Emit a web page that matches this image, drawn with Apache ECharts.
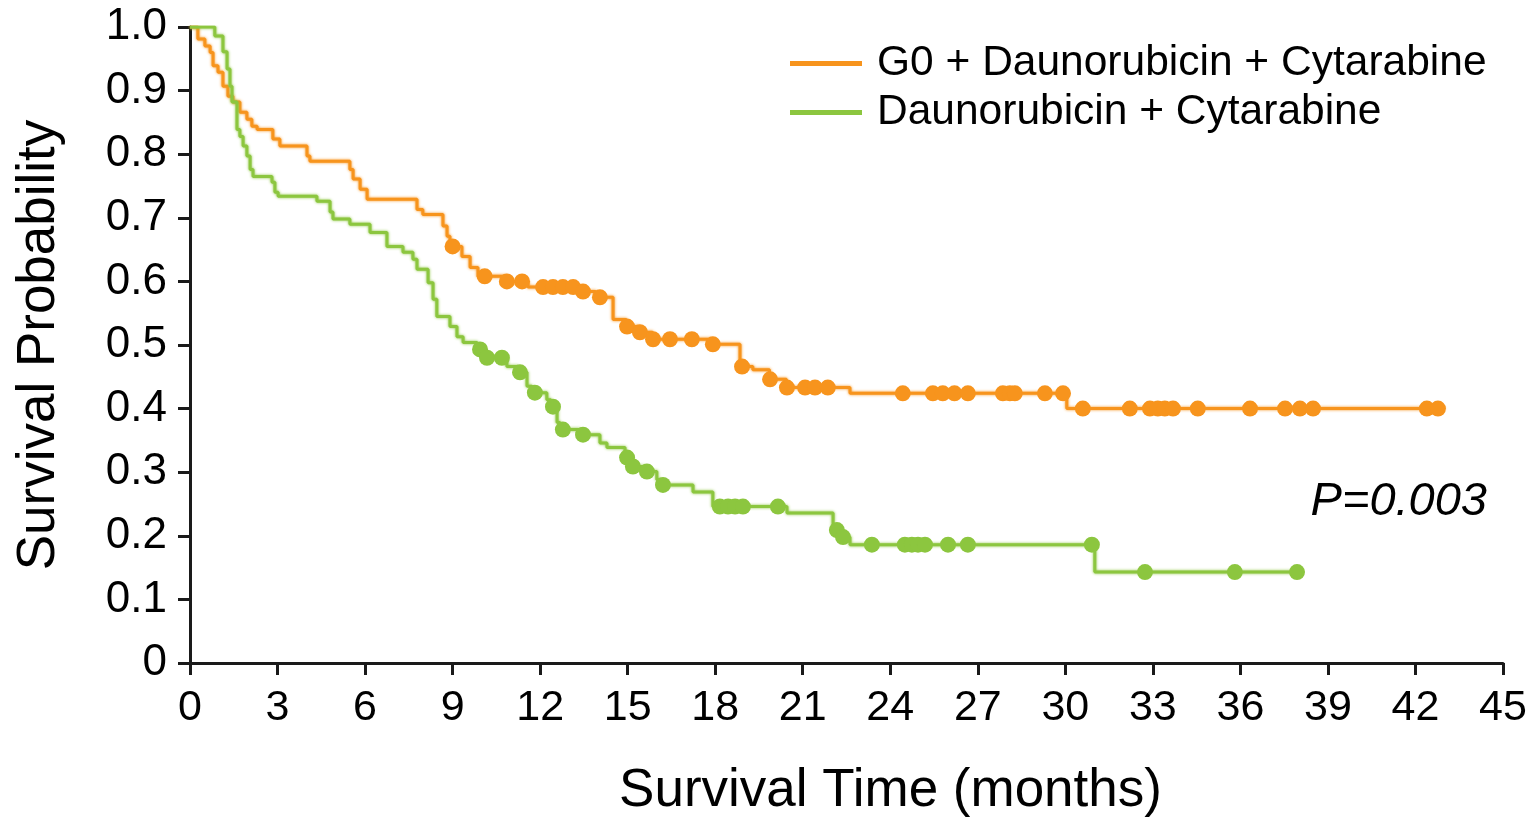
<!DOCTYPE html>
<html>
<head>
<meta charset="utf-8">
<title>Survival Probability</title>
<script src="https://cdn.jsdelivr.net/npm/echarts@6/dist/echarts.min.js"></script>
<style>
  html, body { margin: 0; padding: 0; background: #ffffff; }
  #chart { width: 1533px; height: 818px; }
</style>
</head>
<body>
<div id="chart"></div>
<script>
// Kaplan-Meier step points: time (months) of each drop and survival after it
const g0Name = 'G0 + Daunorubicin + Cytarabine';
const g0Time = [0, 0.27, 0.51, 0.69, 0.79, 0.96, 1.13, 1.30, 1.47, 1.71,
  1.95, 2.12, 2.30, 2.84, 3.08, 4.01, 4.11, 5.48, 5.59, 5.83,
  6.07, 7.78, 7.98, 8.67, 8.81, 8.91, 9.32, 9.60, 9.87, 10.86,
  11.58, 13.47, 13.90, 14.50, 14.95, 15.40, 15.85, 17.90, 18.85, 19.29,
  19.86, 20.44, 22.62, 30.05];
const g0Surv = [1.0, 0.981, 0.970, 0.960, 0.939, 0.929, 0.907, 0.891, 0.882, 0.866,
  0.855, 0.844, 0.839, 0.824, 0.813, 0.797, 0.789, 0.776, 0.761, 0.745,
  0.729, 0.713, 0.705, 0.687, 0.671, 0.655, 0.639, 0.622, 0.608, 0.600,
  0.591, 0.584, 0.575, 0.540, 0.529, 0.520, 0.509, 0.501, 0.466, 0.461,
  0.446, 0.433, 0.424, 0.400];
const g0Censor = [9.0, 10.1, 10.86, 11.38, 12.1, 12.44, 12.78, 13.13, 13.47, 14.05,
  14.98, 15.42, 15.87, 16.45, 17.2, 17.92, 18.92, 19.88, 20.46, 21.08,
  21.42, 21.86, 24.43, 25.46, 25.8, 26.2, 26.66, 27.86, 28.1, 28.27,
  29.3, 29.92, 30.6, 32.21, 32.9, 33.17, 33.41, 33.69, 34.54, 36.33,
  37.53, 38.04, 38.49, 42.39, 42.77];
const g0End = 43.0;

const dcName = 'Daunorubicin + Cytarabine';
const dcTime = [0, 0.85, 1.13, 1.27, 1.37, 1.44, 1.61, 1.71, 1.82, 1.95,
  2.06, 2.16, 2.81, 2.91, 3.02, 4.35, 4.80, 4.90, 5.48, 6.17,
  6.75, 7.30, 7.64, 7.78, 8.16, 8.33, 8.46, 8.91, 9.15, 9.36,
  9.84, 10.11, 10.86, 11.24, 11.55, 11.72, 12.23, 12.37, 12.58, 12.68,
  13.37, 14.05, 14.29, 14.91, 15.11, 15.56, 16.00, 16.14, 17.24, 17.92,
  20.46, 22.04, 22.31, 22.62, 31.01];
const dcSurv = [1.0, 0.986, 0.961, 0.934, 0.907, 0.882, 0.839, 0.828, 0.813, 0.797,
  0.776, 0.765, 0.756, 0.740, 0.734, 0.726, 0.709, 0.698, 0.690, 0.677,
  0.655, 0.646, 0.635, 0.619, 0.598, 0.572, 0.545, 0.529, 0.513, 0.504,
  0.493, 0.480, 0.466, 0.457, 0.435, 0.425, 0.414, 0.403, 0.378, 0.367,
  0.359, 0.346, 0.339, 0.323, 0.309, 0.301, 0.288, 0.280, 0.269, 0.246,
  0.236, 0.209, 0.198, 0.186, 0.143];
const dcCensor = [9.94, 10.18, 10.69, 11.31, 11.82, 12.44, 12.78, 13.47, 14.98, 15.18,
  15.66, 16.21, 18.16, 18.44, 18.68, 18.95, 20.15, 22.17, 22.38, 23.37,
  24.5, 24.74, 24.95, 25.19, 25.98, 26.66, 30.91, 32.73, 35.81, 37.94];
const dcEnd = 37.94;

const xTicks = { min: 0, max: 45, step: 3 };
const yTicks = { min: 0, max: 1, step: 0.1 };
const pValueText = 'P=0.003';

const orange = '#F7941D';
const green = '#8CC63F';
const fontFamily = '"Liberation Sans", Arial, Helvetica, sans-serif';

// Step curve data, holding the last value until the end of follow-up
function curveData(times, surv, end) {
  const pts = times.map((t, i) => [t, surv[i]]);
  pts.push([end, surv[surv.length - 1]]);
  return pts;
}

// Survival value of a step curve at time t
function survAt(times, surv, t) {
  let v = surv[0];
  for (let i = 0; i < times.length; i++) {
    if (times[i] <= t + 1e-9) v = surv[i];
  }
  return v;
}

function censorData(times, surv, censor) {
  return censor.map(t => [t, survAt(times, surv, t)]);
}

const chart = echarts.init(document.getElementById('chart'), null, { renderer: 'canvas' });

function lineSeries(name, color, data) {
  return {
    name: name,
    type: 'line',
    step: 'end',
    data: data,
    showSymbol: false,
    symbol: 'none',
    lineStyle: { color: color, width: 3, shadowColor: color, shadowBlur: 3 },
    itemStyle: { color: color },
    z: 2,
    animation: false
  };
}

function censorSeries(name, color, data) {
  return {
    name: name,
    type: 'scatter',
    data: data,
    symbol: 'circle',
    symbolSize: 16,
    itemStyle: { color: color, opacity: 1 },
    z: 3,
    animation: false
  };
}

chart.setOption({
  backgroundColor: '#ffffff',
  animation: false,
  grid: {
    left: 190, right: 30, top: 27, bottom: 155,
    containLabel: false,
    outerBoundsMode: 'none'
  },
  legend: {
    data: [g0Name, dcName],
    orient: 'vertical',
    left: 790,
    top: 42,
    padding: 0,
    icon: 'rect',
    itemWidth: 72,
    itemHeight: 5,
    itemGap: 6,
    textStyle: { fontSize: 42.5, color: '#000', fontFamily: fontFamily, padding: [0, 0, 0, 10] },
    selectedMode: false
  },
  xAxis: {
    type: 'value',
    min: xTicks.min,
    max: xTicks.max,
    interval: xTicks.step,
    name: 'Survival Time (months)',
    nameLocation: 'middle',
    nameGap: 102,
    nameTextStyle: { fontSize: 53, color: '#000', fontFamily: fontFamily, padding: [0, 0, 0, 88] },
    axisLine: { show: true, onZero: false, lineStyle: { color: '#1a1a1a', width: 3 } },
    axisTick: { show: true, length: 12, lineStyle: { color: '#1a1a1a', width: 3 } },
    axisLabel: { fontSize: 43, color: '#000', margin: 24, fontFamily: fontFamily },
    splitLine: { show: false }
  },
  yAxis: {
    type: 'value',
    min: yTicks.min,
    max: yTicks.max,
    interval: yTicks.step,
    name: 'Survival Probability',
    nameLocation: 'middle',
    nameGap: 124,
    nameTextStyle: { fontSize: 53, color: '#000', fontFamily: fontFamily },
    axisLine: { show: true, lineStyle: { color: '#1a1a1a', width: 3 } },
    axisTick: { show: true, length: 12, lineStyle: { color: '#1a1a1a', width: 3 } },
    axisLabel: {
      fontSize: 44, color: '#000', margin: 23, fontFamily: fontFamily,
      formatter: v => (v === 0 ? '0' : v.toFixed(1))
    },
    splitLine: { show: false }
  },
  graphic: [{
    type: 'text',
    right: 46,
    top: 478,
    style: {
      text: pValueText,
      fontSize: 47,
      fontStyle: 'italic',
      fontFamily: fontFamily,
      fill: '#000'
    }
  }],
  series: [
    lineSeries(g0Name, orange, curveData(g0Time, g0Surv, g0End)),
    lineSeries(dcName, green, curveData(dcTime, dcSurv, dcEnd)),
    censorSeries('G0 censored', orange, censorData(g0Time, g0Surv, g0Censor)),
    censorSeries('DC censored', green, censorData(dcTime, dcSurv, dcCensor))
  ]
});
</script>
</body>
</html>
